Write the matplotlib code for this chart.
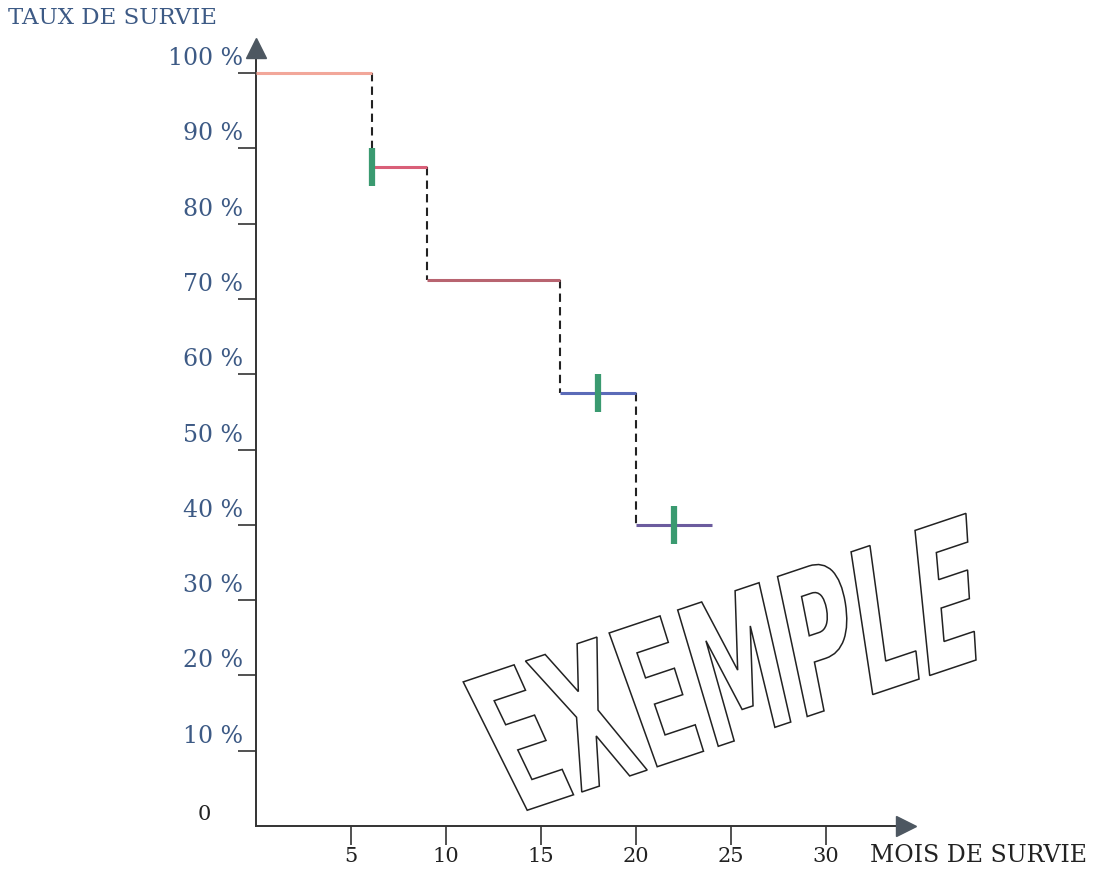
import numpy as np
import matplotlib
matplotlib.use('Agg')
import matplotlib.pyplot as plt
from matplotlib.textpath import TextPath
from matplotlib.font_manager import FontProperties
from matplotlib.patches import PathPatch
from matplotlib.path import Path
from matplotlib.transforms import Affine2D, ScaledTranslation

# survival curve (months, %)
step_start = [0, 6.1, 9, 16, 20]
step_end = [6.1, 9, 16, 20, 24]
survival = [100, 87.5, 72.5, 57.5, 40]
seg_colors = ['#f2a79a', '#d95f78', '#b86470', '#5b6bb8', '#6c5c9e']
censor_time = [6.1, 18, 22]
censor_surv = [87.5, 57.5, 40]

y_ticks = [10, 20, 30, 40, 50, 60, 70, 80, 90, 100]
y_labels = ['%d %%' % v for v in y_ticks]
x_ticks = [5, 10, 15, 20, 25, 30]
x_labels = [str(v) for v in x_ticks]

plt.rcParams['font.family'] = ['DejaVu Serif']

W, H = 1106, 892
fig = plt.figure(figsize=(W / 100, H / 100), dpi=100)
ax = fig.add_axes([256 / W, 66 / H, 665 / W, 790.6 / H])
ax.set_xlim(0, 35)
ax.set_ylim(0, 105)
for s in ax.spines.values():
    s.set_visible(False)

# steps + dashed drops
for i in range(len(survival)):
    ax.plot([step_start[i], step_end[i]], [survival[i]] * 2, color=seg_colors[i],
            lw=2.2, solid_capstyle='butt', zorder=3)
    if i > 0:
        ax.plot([step_start[i]] * 2, [survival[i - 1], survival[i]], color='#222222',
                lw=1.5, ls=(0, (4, 2.5)), zorder=2)
ax.plot(censor_time, censor_surv, ls='none', marker='|', ms=27, mew=4.5,
        color='#3a9a70', zorder=4)

# axis lines with arrow heads
axcol = '#333333'
ax.plot([0, 34], [0, 0], color=axcol, lw=1.4, clip_on=False)
ax.plot([0, 0], [0, 103], color=axcol, lw=1.4, clip_on=False)
ax.plot([34.2], [0], marker='>', ms=15, color='#4d5761', clip_on=False)
ax.plot([0], [103.3], marker='^', ms=15, color='#4d5761', clip_on=False)

ax.set_yticks(y_ticks, y_labels)
ax.set_xticks(x_ticks, x_labels)
ax.tick_params(axis='y', length=13, width=1.2, color=axcol, labelcolor='#3d5a85',
               labelsize=17, pad=0)
ax.tick_params(axis='x', length=14, width=1.2, color=axcol, labelcolor='#222222',
               labelsize=15, pad=1)
for lab in ax.get_yticklabels():
    lab.set_transform(lab.get_transform() + ScaledTranslation(0.05, 0.17, fig.dpi_scale_trans))
ax.text(-2.7, 1.5, '0', ha='center', va='center', color='#222222', fontsize=15)

fig.text(8 / W, 1 - 18 / H, 'TAUX DE SURVIE', ha='left', va='center',
         color='#3d5a85', fontsize=16.5)
fig.text(870 / W, 1 - 855 / H, 'MOIS DE SURVIE', ha='left', va='center',
         color='#222222', fontsize=17)

# EXEMPLE watermark, outlined and warped
tp = TextPath((0, 0), 'EXEMPLE', size=1, prop=FontProperties(family='DejaVu Sans', weight='bold'))
v = tp.vertices.copy()
xmin, xmax = v[:, 0].min(), v[:, 0].max()
ymin, ymax = v[:, 1].min(), v[:, 1].max()
xn = (v[:, 0] - xmin) / (xmax - xmin)
yn = (v[:, 1] - ymin) / (ymax - ymin)
ox, oy = 519, H - 813
sx = -65 + 56 * xn
sy = 128 + 19 * xn
px = ox + xn * 457 + yn * sx
py = oy + xn * 153 + yn * sy
wpath = Path(np.column_stack([px, py]), tp.codes)
fig.patches.append(PathPatch(wpath, facecolor='none', edgecolor='#222222', lw=1.1,
                             transform=Affine2D().scale(1 / W, 1 / H) + fig.transFigure))

fig.savefig('out.png', dpi=100)
